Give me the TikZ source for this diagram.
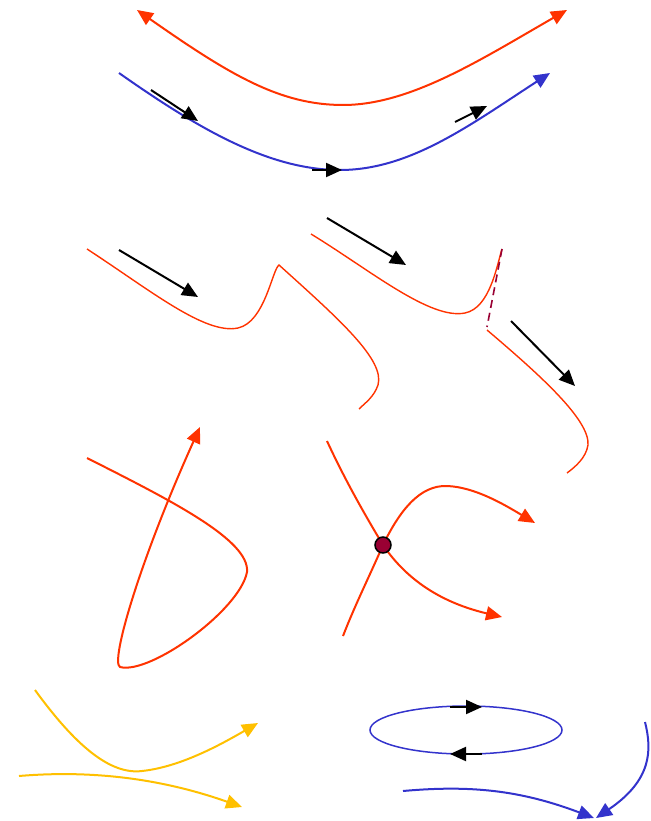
\documentclass[tikz,border=0pt]{standalone}
\usepackage{xcolor}
\usepackage{tikz}
\usetikzlibrary{arrows.meta}

\definecolor{orbitred}{RGB}{255,51,0}
\definecolor{orbitblue}{RGB}{51,51,204}
\definecolor{orbityellow}{RGB}{255,192,0}
\definecolor{saddlered}{RGB}{153,0,51}

\begin{document}
\begin{tikzpicture}[x=1pt, y=-1pt,
		tip/.style={-{Triangle[length=16pt, width=14pt]}},
		redthick/.style={draw=orbitred, line width=2pt},
		redthin/.style={draw=orbitred, line width=1.4pt},
		bluethick/.style={draw=orbitblue, line width=2pt},
		yellowthick/.style={draw=orbityellow, line width=2pt},
		flow/.style={tip, draw=black, fill=black, line width=2pt}]
	\useasboundingbox (0,0) rectangle (650,821);
	% top: two trajectories
	\draw[redthick, {Triangle[length=16pt, width=14pt]}-{Triangle[length=16pt, width=14pt]}, fill=none] (137,10) .. controls (230,75) and (280,105) .. (343,105) .. controls (410,105) and (480,60) .. (567,10);
	\draw[bluethick, tip, fill=none] (119,73) .. controls (200,130) and (270,170) .. (340,170) .. controls (410,170) and (470,125) .. (550,73);
	\draw[flow] (151,90) -- (198,121);
	\draw[flow] (312,170) -- (342,170);
	\draw[flow] (455,122) -- (487,106);
	% middle: fold and jump
	\draw[redthin] (87,249) .. controls (150,290) and (205,335) .. (238,328) .. controls (265,322) and (272,270) .. (279,265)
		.. controls (340,320) and (385,360) .. (378,385) .. controls (374,397) and (365,403) .. (359,409);
	\draw[flow] (119,250) -- (198,297);
	\draw[redthin] (311,234) .. controls (370,270) and (430,320) .. (465,313) .. controls (490,308) and (497,265) .. (502,249);
	\draw[draw=saddlered, line width=1.6pt, dash pattern=on 8pt off 5pt] (502,249) -- (487,327);
	\draw[redthin] (487,330) .. controls (540,375) and (590,420) .. (588,445) .. controls (586,458) and (575,467) .. (567,473);
	\draw[flow] (327,218) -- (406,265);
	\draw[flow] (511,321) -- (575,386);
	% loop and saddle
	\draw[redthick, tip, fill=none] (87,458) .. controls (170,500) and (250,540) .. (247,572) .. controls (240,610) and (150,675) .. (120,667)
		.. controls (110,662) and (140,560) .. (200,427);
	\coordinate (saddle) at (383,545);
	\draw[redthick] (saddle) .. controls (365,515) and (345,480) .. (327,441);
	\draw[redthick] (saddle) .. controls (370,575) and (355,605) .. (343,636);
	\draw[redthick, tip, fill=none] (saddle) .. controls (400,510) and (420,485) .. (447,486) .. controls (475,487) and (505,505) .. (535,523);
	\draw[redthick, tip, fill=none] (saddle) .. controls (400,570) and (430,600) .. (502,617);
	\fill[saddlered, draw=black, line width=1.5pt] (saddle) circle[radius=8];
	% bottom
	\draw[yellowthick, tip, fill=none] (35,690) .. controls (75,745) and (110,775) .. (142,771) .. controls (180,767) and (220,745) .. (258,723);
	\draw[yellowthick, tip, fill=none] (19,776) .. controls (90,770) and (160,778) .. (242,807);
	\draw[draw=orbitblue, line width=1.5pt] (466,730) ellipse[x radius=96, y radius=24];
	\draw[flow] (450,707) -- (482,707);
	\draw[flow] (482,754) -- (450,754);
	\draw[bluethick, tip, fill=none] (403,791) .. controls (470,785) and (520,790) .. (594,818);
	\draw[bluethick, tip, fill=none] (645,722) .. controls (652,750) and (652,780) .. (596,818);
\end{tikzpicture}
\end{document}
